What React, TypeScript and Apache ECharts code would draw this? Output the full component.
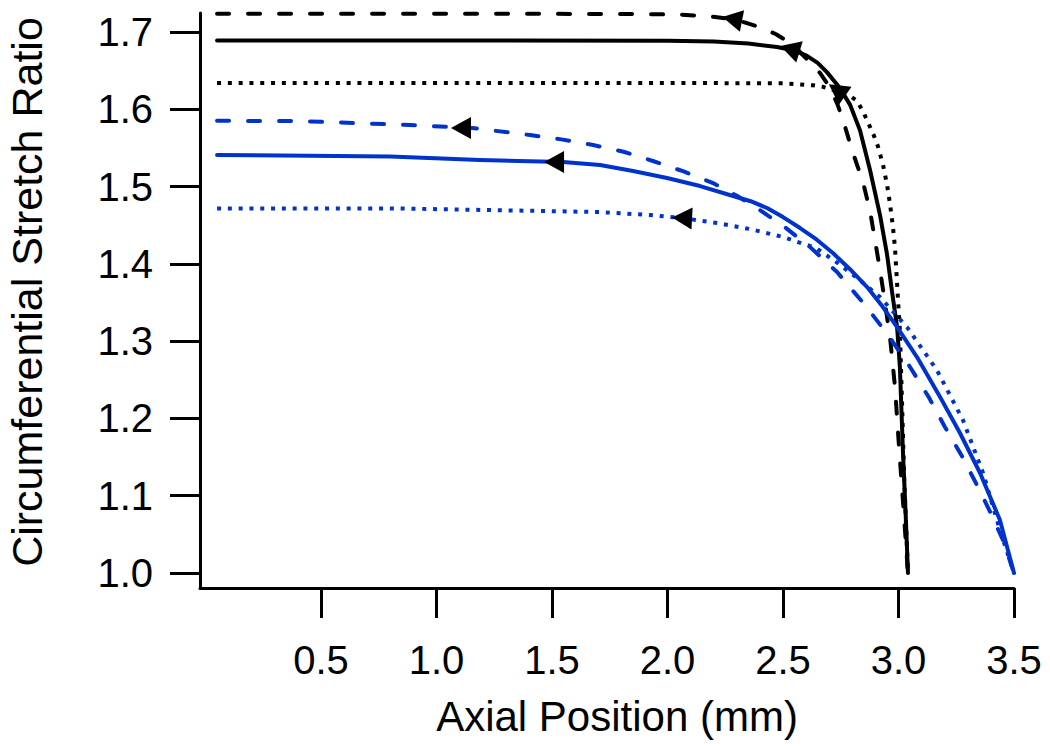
import React, { useEffect, useRef } from "react";
import * as echarts from "echarts";

const xTicks = [0.5, 1.0, 1.5, 2.0, 2.5, 3.0, 3.5];
const yTicks = [1.0, 1.1, 1.2, 1.3, 1.4, 1.5, 1.6, 1.7];

const blackDashed: number[][] = [
  [0.05, 1.7235], [1.0, 1.7235], [1.8, 1.7233], [2.05, 1.7225], [2.17, 1.7205], [2.28, 1.7167],
  [2.344, 1.7115], [2.41, 1.705], [2.47, 1.697], [2.54, 1.684], [2.6, 1.666], [2.66, 1.647],
  [2.703, 1.628], [2.735, 1.607], [2.76, 1.586], [2.799, 1.547], [2.847, 1.505], [2.877, 1.468],
  [2.898, 1.431], [2.92, 1.392], [2.942, 1.349], [2.965, 1.3], [2.985, 1.24], [3.003, 1.16],
  [3.02, 1.09], [3.041, 1.0],
];

const blackSolid: number[][] = [
  [0.05, 1.689], [1.0, 1.689], [2.0, 1.6885], [2.2, 1.6875], [2.35, 1.685], [2.474, 1.6805],
  [2.55, 1.676], [2.604, 1.669], [2.65, 1.66], [2.69, 1.648], [2.747, 1.627], [2.79, 1.606],
  [2.833, 1.573], [2.877, 1.521], [2.92, 1.463], [2.95, 1.413], [2.972, 1.364], [2.994, 1.318],
  [3.006, 1.2665], [3.019, 1.159], [3.032, 1.069], [3.041, 1.0],
];

const blackDotted: number[][] = [
  [0.05, 1.634], [2.0, 1.634], [2.5, 1.6335], [2.63, 1.631], [2.673, 1.629], [2.738, 1.623],
  [2.78, 1.619], [2.82, 1.611], [2.845, 1.598], [2.868, 1.583], [2.892, 1.567], [2.911, 1.552],
  [2.933, 1.528], [2.95, 1.503], [2.963, 1.478], [2.976, 1.4476], [2.985, 1.42], [2.998, 1.353],
  [3.006, 1.314], [3.015, 1.224], [3.025, 1.12], [3.041, 1.0],
];

const blueDashed: number[][] = [
  [0.05, 1.585], [0.409, 1.5847], [0.885, 1.5796], [1.154, 1.5757], [1.405, 1.5666], [1.54, 1.561],
  [1.678, 1.5537], [1.81, 1.545], [1.937, 1.533], [2.07, 1.5195], [2.197, 1.5045], [2.3, 1.488],
  [2.4, 1.4696], [2.51, 1.447], [2.617, 1.4217], [2.734, 1.3894], [2.855, 1.3467], [2.955, 1.3079],
  [3.05, 1.2665], [3.13, 1.228], [3.201, 1.1889], [3.275, 1.151], [3.344, 1.1113], [3.4, 1.077],
  [3.452, 1.0427], [3.5, 1.0],
];

const blueSolid: number[][] = [
  [0.05, 1.5408], [0.8, 1.539], [1.188, 1.5343], [1.548, 1.5317], [1.708, 1.5278], [1.851, 1.52],
  [1.998, 1.511], [2.141, 1.5006], [2.284, 1.4877], [2.36, 1.481], [2.431, 1.4722], [2.5, 1.4605],
  [2.574, 1.4463], [2.645, 1.4315], [2.716, 1.414], [2.79, 1.393], [2.864, 1.37], [2.93, 1.345],
  [2.994, 1.318], [3.08, 1.2794], [3.18, 1.2277], [3.266, 1.1811], [3.353, 1.1294], [3.439, 1.0686],
  [3.5, 1.0],
];

const blueDotted: number[][] = [
  [0.05, 1.4716], [0.842, 1.4716], [1.708, 1.467], [1.924, 1.4631], [2.067, 1.4592], [2.214, 1.4528],
  [2.357, 1.445], [2.5, 1.4347], [2.643, 1.4204], [2.73, 1.4025], [2.821, 1.3816], [2.92, 1.357],
  [3.037, 1.318], [3.166, 1.2626], [3.279, 1.1979], [3.366, 1.1294], [3.439, 1.0556], [3.5, 1.0],
];

const arrowPoints: number[][] = [
  [2.28, 1.7167], [2.53, 1.678], [2.734, 1.625], [1.106, 1.5757], [1.509, 1.5317], [2.063, 1.4592],
];
const arrowAngles = [79, 73, 55, 90, 90, 87];

const xTitle = "Axial Position (mm)";
const yTitle = "Circumferential Stretch Ratio";

const BLACK = "#000000";
const BLUE = "#0033cc";
const FONT = "'Liberation Sans', Arial, sans-serif";
const DASH = [12, 19];
const DOT = [4, 6.8];

function lineSeries(data: number[][], color: string, type: any, cap: string) {
  return {
    type: "line",
    data,
    showSymbol: false,
    symbol: "none",
    clip: false,
    smooth: false,
    lineStyle: { color, width: 4, type, cap, join: "round" },
    z: 2,
  };
}

export default function App() {
  const ref = useRef<HTMLDivElement>(null);
  useEffect(() => {
    if (!ref.current) return;
    const chart = echarts.init(ref.current, null, { renderer: "svg" });
    const axisCommon = {
      type: "value",
      axisLine: { show: true, onZero: false, lineStyle: { color: BLACK, width: 3 } },
      splitLine: { show: false },
    };
    chart.setOption({
      animation: false,
      backgroundColor: "#ffffff",
      grid: { left: 200, right: 36, top: 13, bottom: 161, containLabel: false },
      xAxis: {
        ...axisCommon,
        min: -0.0238,
        max: 3.5,
        axisTick: {
          show: true,
          inside: false,
          length: 30,
          customValues: xTicks,
          lineStyle: { color: BLACK, width: 3 },
        },
        axisLabel: {
          show: true,
          customValues: xTicks,
          margin: 52,
          fontSize: 40,
          fontFamily: FONT,
          color: BLACK,
          formatter: (v: number) => v.toFixed(1),
        },
      },
      yAxis: {
        ...axisCommon,
        min: 0.9806,
        max: 1.7245,
        axisTick: {
          show: true,
          inside: false,
          length: 30,
          customValues: yTicks,
          lineStyle: { color: BLACK, width: 3 },
        },
        axisLabel: {
          show: true,
          customValues: yTicks,
          margin: 47,
          fontSize: 40,
          fontFamily: FONT,
          color: BLACK,
          formatter: (v: number) => v.toFixed(1),
        },
      },
      graphic: [
        {
          type: "text",
          x: 617,
          y: 716,
          style: {
            text: xTitle,
            fontSize: 42,
            fontFamily: FONT,
            fill: BLACK,
            textAlign: "center",
            textVerticalAlign: "middle",
          },
        },
        {
          type: "text",
          x: 27,
          y: 292,
          rotation: Math.PI / 2,
          style: {
            text: yTitle,
            fontSize: 43,
            fontFamily: FONT,
            fill: BLACK,
            textAlign: "center",
            textVerticalAlign: "middle",
          },
        },
      ],
      series: [
        lineSeries(blackDashed, BLACK, DASH, "round"),
        lineSeries(blackSolid, BLACK, "solid", "round"),
        lineSeries(blackDotted, BLACK, DOT, "butt"),
        lineSeries(blueDashed, BLUE, DASH, "round"),
        lineSeries(blueSolid, BLUE, "solid", "round"),
        lineSeries(blueDotted, BLUE, DOT, "butt"),
        {
          type: "scatter",
          clip: false,
          symbol: "triangle",
          symbolSize: [22, 20],
          itemStyle: { color: BLACK, opacity: 1 },
          z: 5,
          data: arrowPoints.map((p, i) => ({ value: p, symbolRotate: arrowAngles[i] })),
        },
      ],
    });
    return () => chart.dispose();
  }, []);
  return (
    <div
      ref={ref}
      style={{ position: "fixed", left: 0, top: 0, width: 1050, height: 749, background: "#fff" }}
    />
  );
}
